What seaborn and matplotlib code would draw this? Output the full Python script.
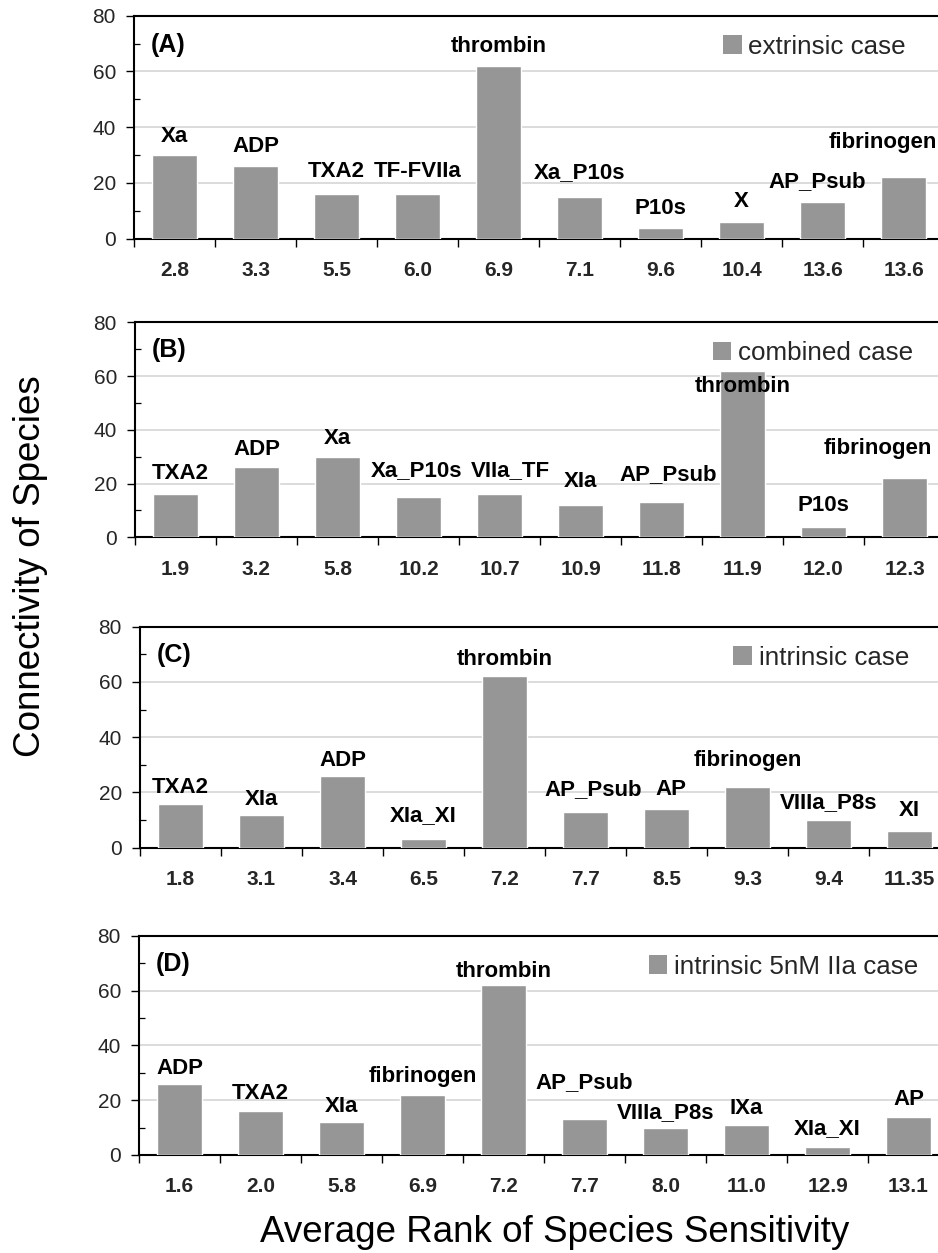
import numpy as np
import pandas as pd
import matplotlib
matplotlib.use("Agg")
import matplotlib.pyplot as plt
import seaborn as sns
from matplotlib.patches import Patch

# ---------------- data ----------------
species_A = ["Xa", "ADP", "TXA2", "TF-FVIIa", "thrombin", "Xa_P10s", "P10s", "X", "AP_Psub", "fibrinogen"]
conn_A = [30, 26, 16, 16, 62, 15, 4, 6, 13, 22]
rank_A = ["2.8", "3.3", "5.5", "6.0", "6.9", "7.1", "9.6", "10.4", "13.6", "13.6"]

species_B = ["TXA2", "ADP", "Xa", "Xa_P10s", "VIIa_TF", "XIa", "AP_Psub", "thrombin", "P10s", "fibrinogen"]
conn_B = [16, 26, 30, 15, 16, 12, 13, 62, 4, 22]
rank_B = ["1.9", "3.2", "5.8", "10.2", "10.7", "10.9", "11.8", "11.9", "12.0", "12.3"]

species_C = ["TXA2", "XIa", "ADP", "XIa_XI", "thrombin", "AP_Psub", "AP", "fibrinogen", "VIIIa_P8s", "XI"]
conn_C = [16, 12, 26, 3, 62, 13, 14, 22, 10, 6]
rank_C = ["1.8", "3.1", "3.4", "6.5", "7.2", "7.7", "8.5", "9.3", "9.4", "11.35"]

species_D = ["ADP", "TXA2", "XIa", "fibrinogen", "thrombin", "AP_Psub", "VIIIa_P8s", "IXa", "XIa_XI", "AP"]
conn_D = [26, 16, 12, 22, 62, 13, 10, 11, 3, 14]
rank_D = ["1.6", "2.0", "5.8", "6.9", "7.2", "7.7", "8.0", "11.0", "12.9", "13.1"]

cases = ["extrinsic case", "combined case", "intrinsic case", "intrinsic 5nM IIa case"]
letters = ["(A)", "(B)", "(C)", "(D)"]

# ---------------- layout (label placement, not data) ----------------
label_y = [
    [36.6, 33, 24, 24, 68.8, 23.6, 11, 13.3, 20.4, 34.4],
    [23.8, 32.5, 36.8, 25, 25, 20.7, 23.2, 56, 12, 33.1],
    [21.9, 17.5, 31.5, 11.5, 68.3, 20.9, 20.9, 31.7, 16.4, 13.4],
    [31.6, 22.5, 17.6, 28.8, 67.1, 26.4, 15.4, 17.1, 9.7, 20.1],
]
label_dx = [
    {9: -0.25, 8: -0.06},
    {0: 0.06, 3: -0.03, 4: 0.14, 6: 0.08, 9: -0.33},
    {5: 0.09, 6: 0.06},
    {},
]
# axes boxes in pixels: left, right, top, bottom
W, H = 938, 1253
boxes = [
    (134, 944, 15.7, 238.7),
    (135, 945, 322.3, 537.3),
    (140, 950, 626.7, 847.7),
    (139, 949, 935.7, 1155.0),
]
legend_right = [906, 913, 909, 918]

BAR = "#969696"

sns.set_theme(style="white")
plt.rcParams["font.family"] = ["Liberation Sans", "DejaVu Sans"]

fig = plt.figure(figsize=(W / 100, H / 100), dpi=100)

panels = [
    (species_A, conn_A, rank_A),
    (species_B, conn_B, rank_B),
    (species_C, conn_C, rank_C),
    (species_D, conn_D, rank_D),
]

for i, (sp, vals, ranks) in enumerate(panels):
    l, r, t, b = boxes[i]
    ax = fig.add_axes([l / W, 1 - b / H, (r - l) / W, (b - t) / H])
    df = pd.DataFrame({"species": sp, "conn": vals})
    sns.barplot(data=df, x="species", y="conn", order=sp, color=BAR,
                saturation=1, width=0.555, ax=ax, zorder=3)
    ax.set_xlim(-0.5, 9.5)
    ax.set_ylim(0, 80)
    ax.set_xlabel("")
    ax.set_ylabel("")

    # grid
    ax.set_yticks([0, 20, 40, 60, 80])
    ax.set_yticks([10, 30, 50, 70], minor=True)
    ax.yaxis.grid(True, which="major", color="#d9d9d9", linewidth=1.3, zorder=0)
    ax.xaxis.grid(False)
    ax.set_axisbelow(True)

    ax.tick_params(axis="y", which="major", direction="out", length=5.5, width=1.0,
                   color="black", labelsize=15, pad=7.5, left=True)
    ax.tick_params(axis="y", which="minor", direction="in", length=4, width=0.9,
                   color="black", left=True)

    ax.set_xticks(range(len(sp)))
    ax.set_xticklabels(ranks, fontsize=15, fontweight="bold")
    ax.set_xticks(np.arange(-0.5, len(sp), 1), minor=True)
    ax.tick_params(axis="x", which="major", length=0, pad=16)
    ax.tick_params(axis="x", which="minor", direction="out", length=6, width=1.0,
                   color="black", bottom=True)

    for s in ["left", "bottom", "top"]:
        ax.spines[s].set_visible(True)
        ax.spines[s].set_color("black")
        ax.spines[s].set_linewidth(1.5)
    ax.spines["right"].set_visible(False)

    # bar labels
    for j, name in enumerate(sp):
        ax.text(j + label_dx[i].get(j, 0.0), label_y[i][j], name, ha="center", va="center",
                fontsize=16, fontweight="bold", color="black", zorder=5)

    # panel letter
    ax.text(-0.29, 69.6, letters[i], ha="left", va="center", fontsize=18,
            fontweight="bold", color="black")

    # legend
    yc = t + 31
    ax.legend(handles=[Patch(facecolor=BAR, edgecolor="none", label=cases[i])],
              loc="center right", bbox_to_anchor=(legend_right[i] / W, 1 - yc / H),
              bbox_transform=fig.transFigure, frameon=False, fontsize=18.7,
              handlelength=0.72, handleheight=0.72, handletextpad=0.25,
              borderpad=0, borderaxespad=0)

fig.text(31 / W, 1 - 566.5 / H, "Connectivity of Species", rotation=90,
         ha="center", va="center", fontsize=26.5, color="black")
fig.text(555 / W, 1 - 1233 / H, "Average Rank of Species Sensitivity",
         ha="center", va="center", fontsize=26.5, color="black")

fig.savefig("out.png", dpi=100)
